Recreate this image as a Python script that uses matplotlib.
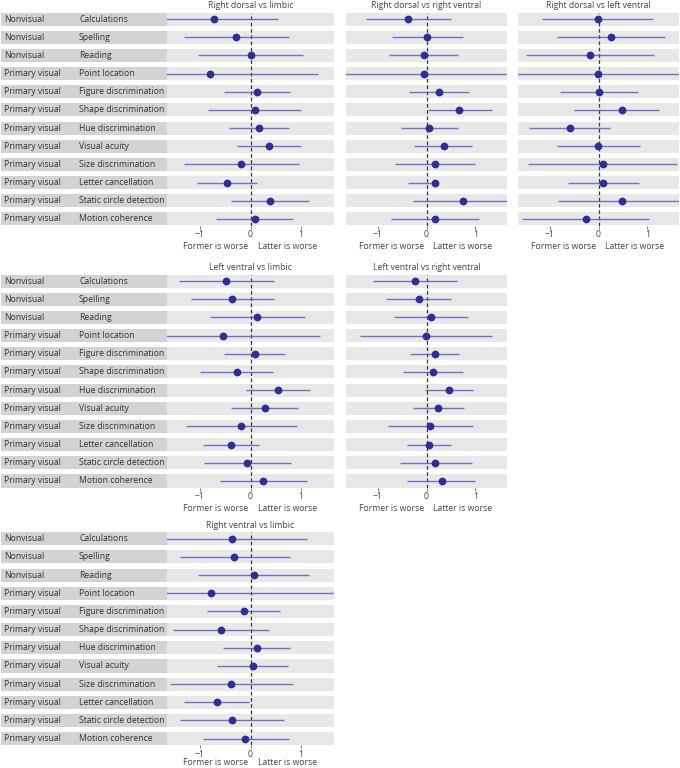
import matplotlib
matplotlib.use("Agg")
import matplotlib.pyplot as plt

# Row labels shared by every panel
categories = ["Nonvisual"] * 3 + ["Primary visual"] * 9
tasks = [
	"Calculations", "Spelling", "Reading", "Point location",
	"Figure discrimination", "Shape discrimination", "Hue discrimination",
	"Visual acuity", "Size discrimination", "Letter cancellation",
	"Static circle detection", "Motion coherence",
]
xticks = [-1, 0, 1]
xtick_labels = ["\u22121", "0", "1"]

# Estimates and interval bounds per comparison
rd_limbic_est = [-0.72, -0.28, 0.00, -0.80, 0.12, 0.08, 0.16, 0.37, -0.19, -0.46, 0.39, 0.08]
rd_limbic_lo = [-1.80, -1.31, -1.03, -1.80, -0.52, -0.84, -0.43, -0.26, -1.32, -1.05, -0.38, -0.69]
rd_limbic_hi = [0.55, 0.76, 1.03, 1.33, 0.78, 1.00, 0.77, 1.00, 0.96, 0.12, 1.16, 0.84]

rd_rv_est = [-0.38, 0.01, -0.06, -0.05, 0.26, 0.66, 0.06, 0.35, 0.18, 0.18, 0.75, 0.17]
rd_rv_lo = [-1.25, -0.70, -0.77, -1.80, -0.36, 0.03, -0.52, -0.25, -0.64, -0.38, -0.28, -0.73]
rd_rv_hi = [0.51, 0.75, 0.65, 1.80, 0.88, 1.34, 0.65, 0.93, 1.00, 0.19, 1.80, 1.08]

rd_lv_est = [-0.02, 0.25, -0.18, -0.02, 0.02, 0.48, -0.59, -0.01, 0.09, 0.10, 0.48, -0.26]
rd_lv_lo = [-1.15, -0.86, -1.48, -1.80, -0.78, -0.50, -1.42, -0.86, -1.44, -0.63, -0.82, -1.56]
rd_lv_hi = [1.12, 1.37, 1.14, 1.80, 0.81, 1.25, 0.24, 0.86, 1.60, 0.84, 1.80, 1.03]

lv_limbic_est = [-0.49, -0.36, 0.13, -0.54, 0.08, -0.27, 0.54, 0.28, -0.19, -0.39, -0.07, 0.24]
lv_limbic_lo = [-1.42, -1.18, -0.80, -1.80, -0.52, -0.99, -0.09, -0.39, -1.28, -0.94, -0.92, -0.61]
lv_limbic_hi = [0.46, 0.46, 1.07, 1.37, 0.68, 0.44, 1.18, 0.93, 0.91, 0.16, 0.80, 1.11]

lv_rv_est = [-0.24, -0.16, 0.09, -0.01, 0.17, 0.13, 0.46, 0.24, 0.07, 0.06, 0.18, 0.31]
lv_rv_lo = [-1.09, -0.83, -0.67, -1.37, -0.34, -0.48, -0.03, -0.27, -0.79, -0.39, -0.55, -0.39]
lv_rv_hi = [0.62, 0.51, 0.85, 1.34, 0.67, 0.74, 0.96, 0.76, 0.95, 0.50, 0.94, 1.00]

rv_limbic_est = [-0.37, -0.32, 0.06, -0.78, -0.13, -0.59, 0.12, 0.04, -0.38, -0.67, -0.36, -0.10]
rv_limbic_lo = [-1.80, -1.39, -1.03, -1.80, -0.85, -1.53, -0.55, -0.66, -1.59, -1.31, -1.39, -0.94]
rv_limbic_hi = [1.12, 0.78, 1.15, 1.80, 0.58, 0.36, 0.79, 0.74, 0.84, -0.03, 0.66, 0.76]

W, H = 680, 768
BAND = 0.36
FONT = "Open Sans"
TXT = "#333333"
plt.rcParams["font.family"] = [FONT, "DejaVu Sans"]

fig = plt.figure(figsize=(W / 100, H / 100), dpi=100)


def px_axes(x0, x1, top, bottom):
	# pixel box (from top-left) -> figure fraction axes
	return fig.add_axes([x0 / W, 1 - bottom / H, (x1 - x0) / W, (bottom - top) / H])


def label_column(top, bottom):
	ax = px_axes(0, 167, top, bottom)
	n = len(tasks)
	ax.set_xlim(0, 167)
	ax.set_ylim(n - 1 + BAND, -BAND)
	for i in range(n):
		ax.axhspan(i - BAND, i + BAND, xmin=1 / 167, xmax=1, color="#d3d3d3", lw=0)
		ax.text(4, i, categories[i], va="center", ha="left", fontsize=6.2, color=TXT)
		ax.text(79, i, tasks[i], va="center", ha="left", fontsize=6.2, color=TXT)
	ax.axis("off")


def panel(x0, x1, top, bottom, title, est, lo, hi, note_px=21):
	ax = px_axes(x0, x1, top, bottom)
	n = len(est)
	ax.set_xlim(-1.65, 1.65)
	ax.set_ylim(n - 1 + BAND, -BAND)
	for i in range(n):
		ax.axhspan(i - BAND, i + BAND, color="#e8e8e9", lw=0, zorder=0)
	ax.axvline(0, color="#3a3a3a", ls=(0, (3, 2)), lw=0.9, zorder=1)
	rows = list(range(n))
	ax.hlines(rows, lo, hi, color="#5f5cb9", lw=1.0, alpha=0.85, zorder=2)
	ax.plot(est, rows, "o", color="#2f2f8f", ms=4.6, zorder=3)
	for s in ax.spines.values():
		s.set_visible(False)
	ax.set_yticks([])
	ax.set_xticks(xticks)
	ax.set_xticklabels(xtick_labels, fontsize=6.2, color="#444444")
	ax.tick_params(axis="x", length=2.5, width=0.6, color="#666666", pad=1)
	ax.set_title(title, fontsize=6.2, color="#444444", pad=3)
	yoff = -note_px / (bottom - top)
	ax.text(-0.04, yoff, "Former is worse", transform=ax.get_xaxis_transform(),
		ha="right", va="center", fontsize=6.2, color="#444444")
	ax.text(0.14, yoff, "Latter is worse", transform=ax.get_xaxis_transform(),
		ha="left", va="center", fontsize=6.2, color="#444444")
	return ax


row_tops = [12.5, 274.5, 532.2]
row_h = 213

t, b = row_tops[0], row_tops[0] + row_h
label_column(t, b)
panel(167, 334, t, b, "Right dorsal vs limbic", rd_limbic_est, rd_limbic_lo, rd_limbic_hi)
panel(346, 507, t, b, "Right dorsal vs right ventral", rd_rv_est, rd_rv_lo, rd_rv_hi)
panel(518, 679, t, b, "Right dorsal vs left ventral", rd_lv_est, rd_lv_lo, rd_lv_hi)

t, b = row_tops[1], row_tops[1] + row_h
label_column(t, b)
panel(167, 334, t, b, "Left ventral vs limbic", lv_limbic_est, lv_limbic_lo, lv_limbic_hi)
panel(346, 507, t, b, "Left ventral vs right ventral", lv_rv_est, lv_rv_lo, lv_rv_hi)

t, b = row_tops[2], row_tops[2] + row_h
label_column(t, b)
panel(167, 334, t, b, "Right ventral vs limbic", rv_limbic_est, rv_limbic_lo, rv_limbic_hi,
	note_px=17)

fig.savefig("out.png", dpi=100)
